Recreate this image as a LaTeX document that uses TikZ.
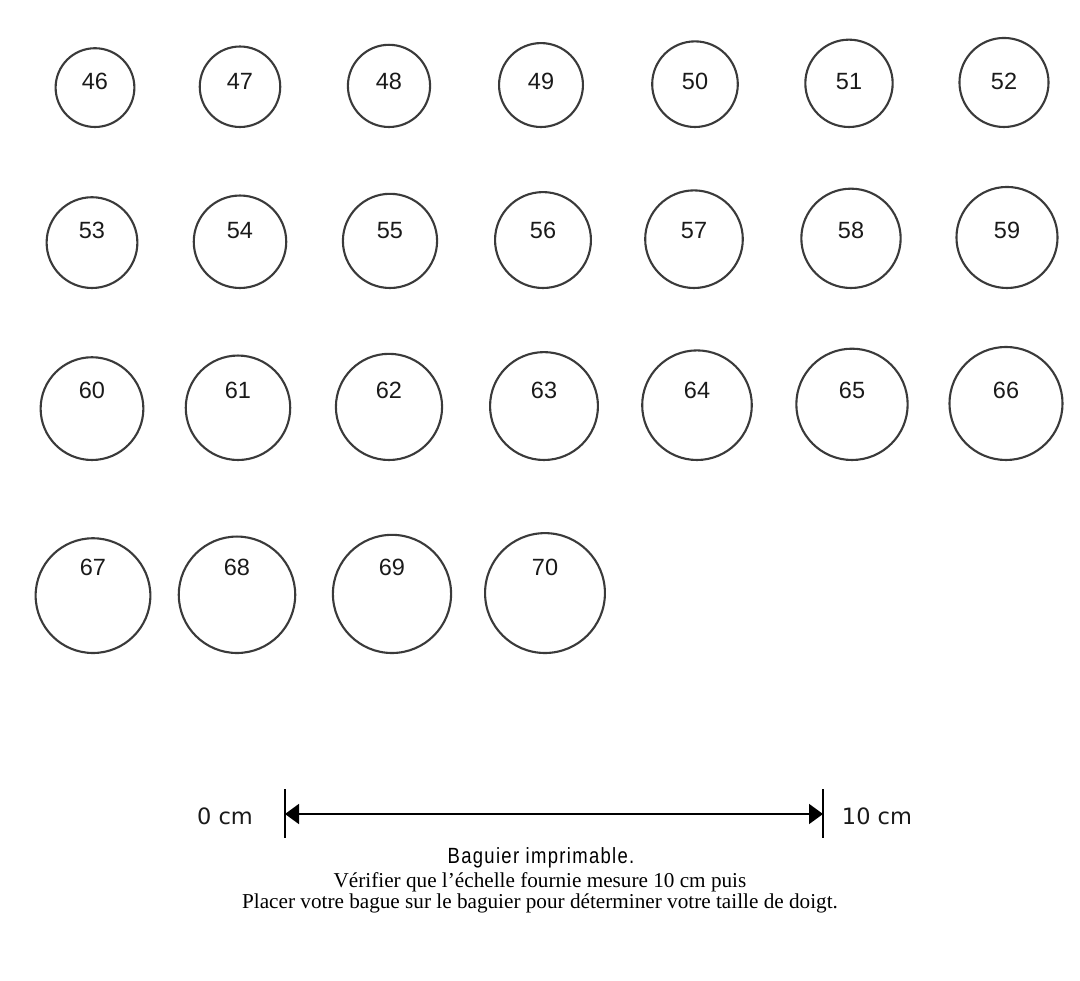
\documentclass[tikz,border=0pt]{standalone}
\usepackage{fontspec}
\setmainfont{Liberation Serif}
\newfontfamily\labfont{Liberation Sans}
\newfontfamily\scalefont{DejaVu Sans}
\newfontfamily\narrowfont[FakeStretch=0.84,LetterSpace=6]{Liberation Sans}
\usetikzlibrary{arrows.meta}
\definecolor{ink}{HTML}{3A3A3A}
\definecolor{txt}{HTML}{1A1A1A}
\newcommand\bague[4]{%
  \pgfmathsetmacro\dd{#1*1.7125}%
  \node[ringc, minimum size=\dd pt] (c#1) at (#2, {#3-\dd/2}) {};
  \node[ringlab] (t#1) at (#2, {#4+8.4}) {#1};
}
\begin{document}
\begin{tikzpicture}[x=1pt,y=-1pt,
  ringc/.style={circle, draw=ink, line width=2.1pt, inner sep=0pt},
  ringlab/.style={text=txt, font=\labfont\fontsize{23.5}{28}\selectfont, inner sep=0pt, anchor=base},
  scalelab/.style={text=txt, font=\scalefont\fontsize{22.5}{27}\selectfont, inner sep=0pt},
  capt/.style={text=black, font=\fontsize{21.2}{25}\selectfont, inner sep=0pt},
  capttitle/.style={text=black, font=\narrowfont\fontsize{22}{26}\selectfont, inner sep=0pt},
  tick/.style={draw=black, line width=1.8pt},
  bar/.style={draw=black, line width=1.8pt, {Triangle[length=14pt,width=20pt]}-{Triangle[length=14pt,width=20pt]}}
]
\useasboundingbox[fill=white] (0,0) rectangle (1080,981);
% row 1
\bague{46}{95}{127}{81}
\bague{47}{240}{127}{81}
\bague{48}{389}{127}{81}
\bague{49}{541}{127}{81}
\bague{50}{695}{127}{81}
\bague{51}{849}{127}{81}
\bague{52}{1004}{127}{81}
% row 2
\bague{53}{92}{288}{230}
\bague{54}{240}{288}{230}
\bague{55}{390}{288}{230}
\bague{56}{543}{288}{230}
\bague{57}{694}{288}{230}
\bague{58}{851}{288}{230}
\bague{59}{1007}{288}{230}
% row 3
\bague{60}{92}{460}{390}
\bague{61}{238}{460}{390}
\bague{62}{389}{460}{390}
\bague{63}{544}{460}{390}
\bague{64}{697}{460}{390}
\bague{65}{852}{460}{390}
\bague{66}{1006}{460}{390}
% row 4
\bague{67}{93}{653}{567}
\bague{68}{237}{653}{567}
\bague{69}{392}{653}{567}
\bague{70}{545}{653}{567}
% scale bar
\coordinate (lt) at (285,789);
\coordinate (lb) at (285,838);
\coordinate (rt) at (823,789);
\coordinate (rb) at (823,838);
\coordinate (la) at (285,814);
\coordinate (ra) at (823,814);
\draw[tick] (lt) -- (lb);
\draw[tick] (rt) -- (rb);
\draw[bar] (la) -- (ra);
\node[scalelab] (zero) at (225,816) {0 cm};
\node[scalelab] (ten) at (877,816) {10 cm};
% caption
\node[capttitle] (title) at (541,858) {Baguier imprimable.};
\node[capt] (line1) at (540,882) {Vérifier que l’échelle fournie mesure 10 cm puis};
\node[capt] (line2) at (540,903) {Placer votre bague sur le baguier pour déterminer votre taille de doigt.};
\end{tikzpicture}
\end{document}
